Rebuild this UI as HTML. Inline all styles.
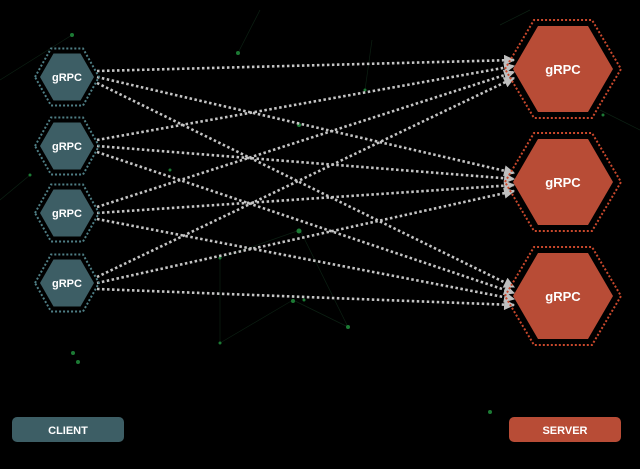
<!DOCTYPE html>
<html><head><meta charset="utf-8"><style>
html,body{margin:0;padding:0;background:#000;width:640px;height:469px;overflow:hidden}
svg{display:block}
text{font-family:"Liberation Sans",sans-serif;font-weight:bold;fill:#fff}
</style></head><body>
<svg id="s" width="640" height="469" viewBox="0 0 640 469" xmlns="http://www.w3.org/2000/svg">
<defs>
<marker id="ah" viewBox="0 0 10 10" refX="9" refY="5" markerWidth="12" markerHeight="11" orient="auto" markerUnits="userSpaceOnUse" >
<path d="M0,0 L10,5 L0,10 z" fill="#bfbfbf"/></marker>
</defs>
<g stroke="#0c2013" stroke-width="0.7" fill="none">
<line x1="72" y1="35" x2="0" y2="80"/><line x1="220" y1="258" x2="300" y2="230"/><line x1="300" y1="230" x2="348" y2="327"/>
<line x1="220" y1="258" x2="220" y2="343"/><line x1="293" y1="300" x2="348" y2="327"/><line x1="220" y1="343" x2="293" y2="300"/>
<line x1="372" y1="40" x2="365" y2="90"/><line x1="600" y1="110" x2="640" y2="130"/><line x1="0" y1="200" x2="30" y2="175"/>
<line x1="500" y1="25" x2="530" y2="10"/><line x1="238" y1="53" x2="260" y2="10"/>
</g>
<g fill="#1c7a34">
<circle cx="72" cy="35" r="2"/><circle cx="238" cy="53" r="2"/><circle cx="299" cy="125" r="2"/><circle cx="299" cy="231" r="2.5"/>
<circle cx="220" cy="258" r="1.5"/><circle cx="293" cy="301" r="2"/><circle cx="304" cy="300" r="1.5"/><circle cx="348" cy="327" r="2"/>
<circle cx="220" cy="343" r="1.5"/><circle cx="73" cy="353" r="2"/><circle cx="78" cy="362" r="2"/><circle cx="490" cy="412" r="2"/>
<circle cx="30" cy="175" r="1.5"/><circle cx="365" cy="90" r="1.5"/><circle cx="603" cy="115" r="1.5"/><circle cx="170" cy="170" r="1.5"/>
</g>
<g id="lines" stroke="#c4c4c4" stroke-width="2.6" stroke-dasharray="2.5 2.5" fill="none"></g>
<g id="hex"></g>
<rect x="12" y="417" width="112" height="25" rx="5" fill="#3d5e65"/>
<text x="68" y="434" font-size="11" text-anchor="middle">CLIENT</text>
<rect x="509" y="417" width="112" height="25" rx="5" fill="#b84c36"/>
<text x="565" y="434" font-size="11" text-anchor="middle">SERVER</text>
</svg>
<script>
var NS="http://www.w3.org/2000/svg";
function hex(cx,cy,w,h){var a=w/2,q=w/4,b=h/2;return [[cx-a,cy],[cx-q,cy-b],[cx+q,cy-b],[cx+a,cy],[cx+q,cy+b],[cx-q,cy+b]].map(p=>p.join(",")).join(" ");}
function el(t,attrs,parent){var e=document.createElementNS(NS,t);for(var k in attrs)e.setAttribute(k,attrs[k]);parent.appendChild(e);return e;}
var H=document.getElementById("hex"),L=document.getElementById("lines");
var cy=[77,146,213,283],sy=[69,182,296];
for(var i=0;i<4;i++){for(var j=0;j<3;j++){
 var y1=cy[i]+(j-1)*6, y2=sy[j]+(i-1.5)*6;
 el("line",{x1:97,y1:y1,x2:514,y2:y2,"marker-end":"url(#ah)"},L);
}}
cy.forEach(function(y){
 el("polygon",{points:hex(67,y,64,57),fill:"none",stroke:"#4f7f86","stroke-width":2,"stroke-dasharray":"2 2"},H);
 el("polygon",{points:hex(67,y,54,47),fill:"#3d5e65"},H);
 var t=el("text",{x:67,y:y+4,"font-size":11,"text-anchor":"middle"},H);t.textContent="gRPC";
});
sy.forEach(function(y){
 el("polygon",{points:hex(563,y,116,98),fill:"none",stroke:"#c9482c","stroke-width":2,"stroke-dasharray":"2 2"},H);
 el("polygon",{points:hex(563,y,100,86),fill:"#b84c36"},H);
 var t=el("text",{x:563,y:y+5,"font-size":13,"text-anchor":"middle"},H);t.textContent="gRPC";
});
</script>
</body></html>
